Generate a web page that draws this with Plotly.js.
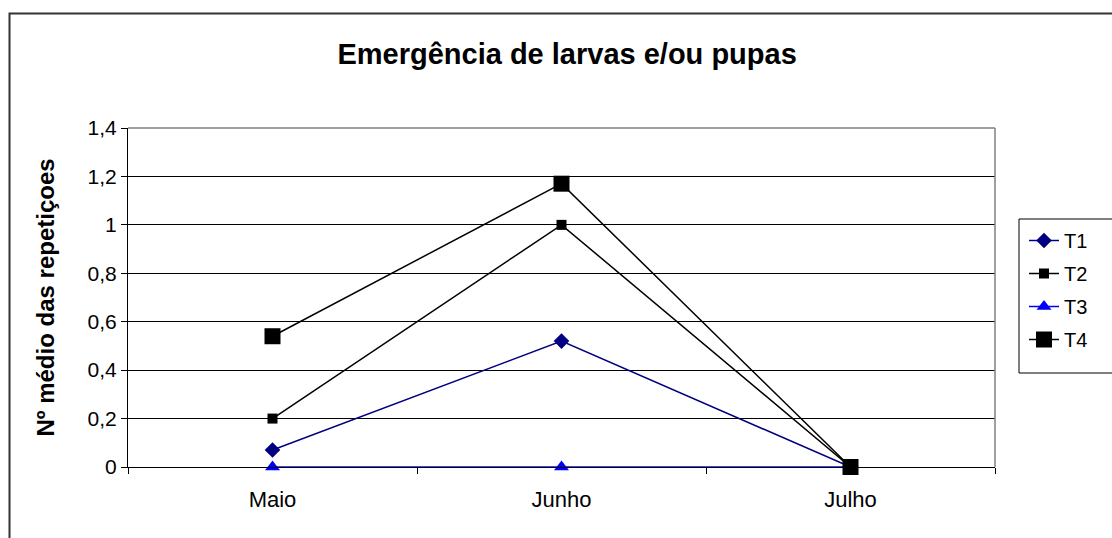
<!DOCTYPE html>
<html><head><meta charset="utf-8">
<script src="https://cdn.plot.ly/plotly-3.0.1.min.js"></script>
<style>html,body{margin:0;padding:0;background:#fff}#chart{width:1112px;height:538px}</style>
</head><body><div id="chart"></div>
<script>
const months = ["Maio", "Junho", "Julho"];
const T1 = [0.07, 0.52, 0];
const T2 = [0.2, 1.0, 0];
const T3 = [0, 0, 0];
const T4 = [0.54, 1.17, 0];
const yTicks = [0, 0.2, 0.4, 0.6, 0.8, 1, 1.2, 1.4];
const yTickText = ["0", "0,2", "0,4", "0,6", "0,8", "1", "1,2", "1,4"];

const font = "Liberation Sans, Arial, sans-serif";
const traces = [
  {name: "T1", y: T1, color: "#000080", symbol: "diamond", size: 12},
  {name: "T2", y: T2, color: "#000000", symbol: "square", size: 10},
  {name: "T3", y: T3, color: "#0000FF", symbol: "triangle-up", size: 13},
  {name: "T4", y: T4, color: "#000000", symbol: "square", size: 16}
].map((t, i) => ({
  type: "scatter", mode: "lines+markers", x: months, y: t.y, name: t.name,
  legendgroup: "g" + i, cliponaxis: false,
  line: {color: t.color, width: 1.5},
  marker: {color: t.color, symbol: t.symbol, size: t.size}
}));

const px = v => (v - 128) / 867;
const py = v => (467 - v) / 339;

const layout = {
  width: 1112, height: 538,
  margin: {l: 128, r: 117, t: 128, b: 71},
  paper_bgcolor: "#fff", plot_bgcolor: "#fff",
  font: {family: font, size: 20, color: "#000"},
  title: {text: "<b>Emergência de larvas e/ou pupas</b>", font: {size: 29, family: font}, x: 0.51, xanchor: "center", y: 0.9, yanchor: "middle"},
  xaxis: {
    type: "category", range: [-0.5, 2.5], tickson: "boundaries",
    ticks: "outside", ticklen: 6, tickcolor: "#000",
    showline: true, linecolor: "#000", linewidth: 1,
    showgrid: false, zeroline: false, ticklabelstandoff: 13,
    tickfont: {size: 22}
  },
  yaxis: {
    range: [0, 1.4], tickvals: yTicks, ticktext: yTickText,
    ticks: "outside", ticklen: 6, tickcolor: "#000",
    showline: true, linecolor: "#000", linewidth: 1,
    showgrid: true, gridcolor: "#000", gridwidth: 1, zeroline: false,
    tickfont: {size: 21},
    title: {text: "<b>Nº médio das repetiçoes</b>", font: {size: 24}, standoff: 26}
  },
  showlegend: true,
  legend: {
    x: px(1024), y: py(221), xanchor: "left", yanchor: "top",
    bgcolor: "rgba(0,0,0,0)", borderwidth: 0,
    font: {size: 20}, traceorder: "grouped", tracegroupgap: 4
  },
  shapes: [
    {type: "line", xref: "paper", yref: "paper", x0: 0, x1: 1, y0: 1, y1: 1, line: {color: "#808080", width: 1.5}},
    {type: "line", xref: "paper", yref: "paper", x0: 1, x1: 1, y0: 0, y1: 1, line: {color: "#808080", width: 1.5}},
    {type: "rect", xref: "paper", yref: "paper", x0: px(1019), x1: px(1130), y0: py(373), y1: py(219), line: {color: "#000", width: 1}},
    {type: "rect", xref: "paper", yref: "paper", x0: px(9.5), x1: px(1140), y0: py(560), y1: py(13.5), line: {color: "#333", width: 2}}
  ]
};

Plotly.newPlot("chart", traces, layout, {displayModeBar: false, staticPlot: true});
</script></body></html>
